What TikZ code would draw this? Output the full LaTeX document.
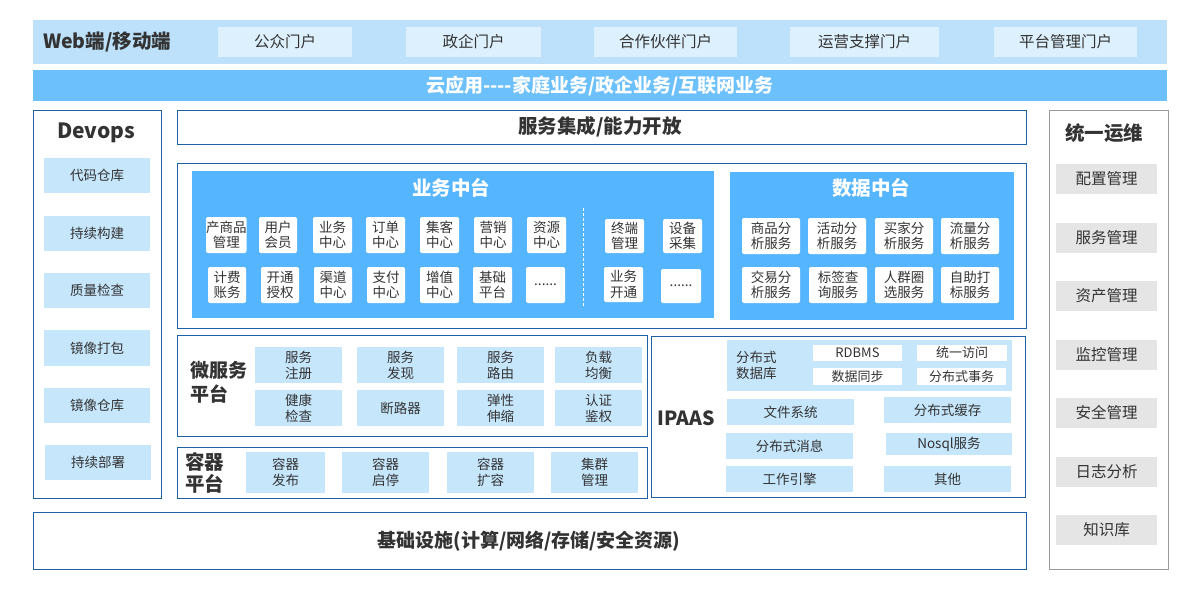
\documentclass[tikz,border=0pt]{standalone}
\usepackage{fontspec}
\setmainfont{Noto Sans CJK SC}
\definecolor{topc}{HTML}{BDE1FB}
\definecolor{portc}{HTML}{DDF0FD}
\definecolor{cloudc}{HTML}{6CC0FC}
\definecolor{panelc}{HTML}{55B5FE}
\definecolor{lightc}{HTML}{C6E6FC}
\definecolor{bordc}{HTML}{1D62A6}
\definecolor{grayc}{HTML}{E5E5E5}
\definecolor{grayb}{HTML}{999999}
\definecolor{txt}{HTML}{333333}
\newcommand\mkbox[7]{\node[#2, anchor=north west, minimum width={(#5-#3)*1pt}, minimum height={(#6-#4)*1pt}] (#1) at (#3,#4) {#7};}
\tikzset{
  base/.style={inner sep=0pt, outer sep=0pt, align=center, text=txt},
  topbar/.style={base, fill=topc},
  portal/.style={base, fill=portc, font=\fontsize{15.5}{17}\selectfont},
  cloud/.style={base, fill=cloudc, text=white, font=\bfseries\fontsize{19}{21}\selectfont},
  outer/.style={base, draw=bordc, line width=1pt},
  grayouter/.style={base, draw=grayb, line width=1pt},
  panel/.style={base, fill=panelc},
  lbox/.style={base, fill=lightc, font=\fontsize{13.5}{16}\selectfont},
  wbox/.style={base, fill=white, rounded corners=2pt, font=\fontsize{13.5}{15.5}\selectfont},
  wsq/.style={base, fill=white, font=\fontsize{13}{15}\selectfont},
  gbox/.style={base, fill=grayc, font=\fontsize{15.5}{17}\selectfont},
  ttl/.style={base, font=\bfseries\fontsize{19.5}{22}\selectfont},
  wttl/.style={base, text=white, font=\bfseries\fontsize{19.5}{22}\selectfont},
  plain/.style={base, font=\fontsize{13}{16}\selectfont},
}
\begin{document}
\begin{tikzpicture}[x=1pt,y=-1pt]
\useasboundingbox[fill=white] (0,0) rectangle (1200,590);
% top bar
\mkbox{top}{topbar}{33}{20}{1167}{64}{}
\node[base, anchor=west, font=\bfseries\fontsize{19.5}{21}\selectfont] (web) at (43,42) {Web端/移动端};
\mkbox{p1}{portal}{218}{27}{352}{57}{公众门户}
\mkbox{p2}{portal}{406}{27}{541}{57}{政企门户}
\mkbox{p3}{portal}{594}{27}{737}{57}{合作伙伴门户}
\mkbox{p4}{portal}{790}{27}{939}{57}{运营支撑门户}
\mkbox{p5}{portal}{994}{27}{1137}{57}{平台管理门户}
% cloud bar
\mkbox{cloud}{cloud}{33}{70}{1167}{101}{云应用-{}-{}-{}-家庭业务/政企业务/互联网业务}
% devops
\mkbox{devops}{outer}{33}{110}{161}{498}{}
\node[ttl, font=\bfseries\fontsize{21}{23}\selectfont] (devt) at (96,133) {Devops};
\mkbox{d1}{lbox}{44}{158}{150}{193}{代码仓库}
\mkbox{d2}{lbox}{44}{216}{150}{251}{持续构建}
\mkbox{d3}{lbox}{44}{273}{150}{308}{质量检查}
\mkbox{d4}{lbox}{44}{330}{150}{366}{镜像打包}
\mkbox{d5}{lbox}{44}{388}{150}{423}{镜像仓库}
\mkbox{d6}{lbox}{45}{445}{151}{480}{持续部署}
% ops
\mkbox{ops}{grayouter}{1049}{110}{1168}{569}{}
\node[ttl] (opst) at (1104,133) {统一运维};
\mkbox{o1}{gbox}{1056}{164}{1157}{194}{配置管理}
\mkbox{o2}{gbox}{1056}{223}{1157}{253}{服务管理}
\mkbox{o3}{gbox}{1056}{281}{1157}{311}{资产管理}
\mkbox{o4}{gbox}{1056}{340}{1157}{370}{监控管理}
\mkbox{o5}{gbox}{1056}{398}{1157}{428}{安全管理}
\mkbox{o6}{gbox}{1056}{457}{1157}{487}{日志分析}
\mkbox{o7}{gbox}{1056}{515}{1157}{545}{知识库}
% service integration
\mkbox{svc}{outer}{177}{110}{1026}{144}{}
\node[ttl, font=\bfseries\fontsize{19.5}{22}\selectfont] (svct) at (600,127) {服务集成/能力开放};
% middle platforms container
\mkbox{mid}{outer}{177}{163}{1026}{328}{}
\mkbox{biz}{panel}{192}{171}{714}{318}{}
\node[wttl] (bizt) at (451,188) {业务中台};
\mkbox{b1}{wbox}{206}{217}{244}{253}{产商品\\管理}
\mkbox{b2}{wbox}{259}{217}{297}{253}{用户\\会员}
\mkbox{b3}{wbox}{313}{217}{352}{253}{业务\\中心}
\mkbox{b4}{wbox}{366}{217}{405}{253}{订单\\中心}
\mkbox{b5}{wbox}{420}{217}{459}{253}{集客\\中心}
\mkbox{b6}{wbox}{474}{217}{512}{253}{营销\\中心}
\mkbox{b7}{wbox}{527}{217}{566}{253}{资源\\中心}
\mkbox{b8}{wbox}{208}{267}{246}{303}{计费\\账务}
\mkbox{b9}{wbox}{261}{267}{299}{303}{开通\\授权}
\mkbox{b10}{wbox}{314}{267}{352}{303}{渠道\\中心}
\mkbox{b11}{wbox}{367}{267}{405}{303}{支付\\中心}
\mkbox{b12}{wbox}{420}{267}{459}{303}{增值\\中心}
\mkbox{b13}{wbox}{473}{267}{512}{303}{基础\\平台}
\mkbox{b14}{wbox}{526}{267}{565}{303}{......}
\coordinate (dtop) at (583,208);
\coordinate (dbot) at (583,307);
\draw[white, line width=1pt, dash pattern=on 3pt off 2pt] (dtop) -- (dbot);
\mkbox{b15}{wbox}{605}{219}{644}{253}{终端\\管理}
\mkbox{b16}{wbox}{663}{219}{702}{253}{设备\\采集}
\mkbox{b17}{wbox}{604}{267}{643}{302}{业务\\开通}
\mkbox{b18}{wbox}{661}{269}{701}{303}{......}
\mkbox{dat}{panel}{730}{172}{1014}{320}{}
\node[wttl] (datt) at (871,188) {数据中台};
\mkbox{s1}{wbox}{742}{218}{800}{254}{商品分\\析服务}
\mkbox{s2}{wbox}{808}{218}{866}{254}{活动分\\析服务}
\mkbox{s3}{wbox}{875}{218}{933}{254}{买家分\\析服务}
\mkbox{s4}{wbox}{941}{218}{999}{254}{流量分\\析服务}
\mkbox{s5}{wbox}{742}{267}{800}{303}{交易分\\析服务}
\mkbox{s6}{wbox}{809}{267}{867}{303}{标签查\\询服务}
\mkbox{s7}{wbox}{875}{267}{933}{303}{人群圈\\选服务}
\mkbox{s8}{wbox}{941}{267}{999}{303}{自助打\\标服务}
% microservice
\mkbox{ms}{outer}{177}{335}{647}{436}{}
\node[ttl, anchor=west, align=left, font=\bfseries\fontsize{19}{24}\selectfont] (mst) at (190,382) {微服务\\平台};
\mkbox{m1}{lbox}{255}{347}{342}{383}{服务\\注册}
\mkbox{m2}{lbox}{357}{347}{444}{383}{服务\\发现}
\mkbox{m3}{lbox}{457}{347}{544}{383}{服务\\路由}
\mkbox{m4}{lbox}{555}{347}{642}{383}{负载\\均衡}
\mkbox{m5}{lbox}{255}{390}{342}{426}{健康\\检查}
\mkbox{m6}{lbox}{357}{390}{444}{426}{断路器}
\mkbox{m7}{lbox}{457}{390}{544}{426}{弹性\\伸缩}
\mkbox{m8}{lbox}{555}{390}{642}{426}{认证\\鉴权}
% container
\mkbox{ct}{outer}{177}{447}{647}{498}{}
\node[ttl, anchor=west, align=left, font=\bfseries\fontsize{19.5}{22}\selectfont] (ctt) at (185,473) {容器\\平台};
\mkbox{c1}{lbox}{246}{452}{325}{493}{容器\\发布}
\mkbox{c2}{lbox}{342}{452}{429}{493}{容器\\启停}
\mkbox{c3}{lbox}{447}{452}{534}{493}{容器\\扩容}
\mkbox{c4}{lbox}{551}{452}{638}{493}{集群\\管理}
% ipaas
\mkbox{ip}{outer}{651}{336}{1025}{497}{}
\node[ttl, font=\bfseries\fontsize{19.5}{21}\selectfont] (ipt) at (686,418) {IPAAS};
\mkbox{db}{lbox}{727}{340}{1012}{391}{}
\node[plain, anchor=west, align=left, font=\fontsize{13.5}{16}\selectfont] (dbt) at (736,365) {分布式\\数据库};
\mkbox{i1}{wsq}{813}{345}{902}{361}{RDBMS}
\mkbox{i2}{wsq}{917}{345}{1007}{361}{统一访问}
\mkbox{i3}{wsq}{813}{368}{902}{385}{数据同步}
\mkbox{i4}{wsq}{917}{368}{1006}{385}{分布式事务}
\mkbox{i5}{lbox}{727}{399}{854}{425}{文件系统}
\mkbox{i6}{lbox}{884}{397}{1011}{423}{分布式缓存}
\mkbox{i7}{lbox}{726}{433}{853}{459}{分布式消息}
\mkbox{i8}{lbox}{886}{433}{1012}{455}{Nosql服务}
\mkbox{i9}{lbox}{726}{466}{853}{492}{工作引擎}
\mkbox{i10}{lbox}{884}{466}{1011}{492}{其他}
% infrastructure
\mkbox{inf}{outer}{33}{512}{1026}{569}{}
\node[ttl, font=\bfseries\fontsize{19}{21}\selectfont] (inft) at (529,541) {基础设施(计算/网络/存储/安全资源)};
\end{tikzpicture}
\end{document}
